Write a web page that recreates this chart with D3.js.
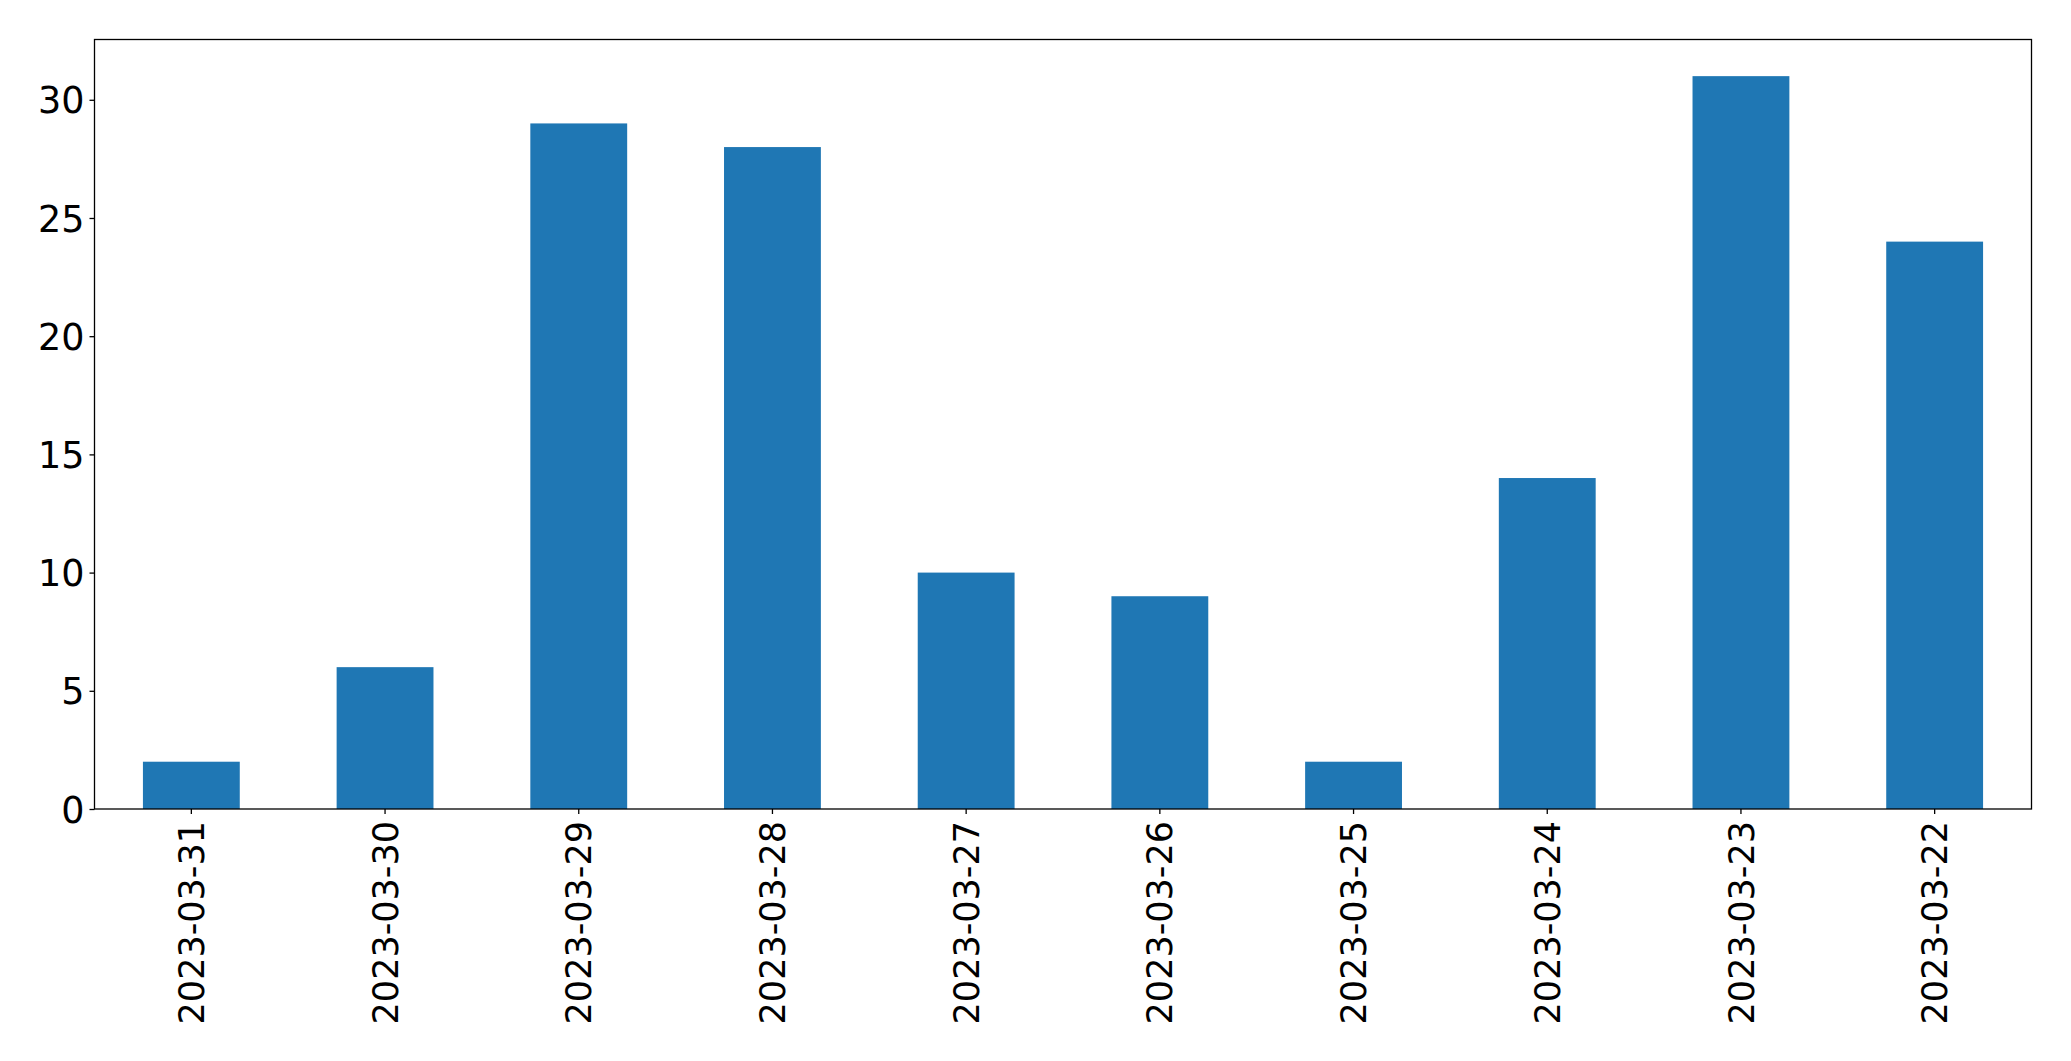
<!DOCTYPE html>
<html>
<head>
<meta charset="utf-8">
<script src="https://cdn.jsdelivr.net/npm/d3@7"></script>
<style>
  html, body { margin: 0; padding: 0; background: #fff; overflow: hidden; }
  svg { display: block; }
  svg text { font-family: "DejaVu Sans", sans-serif; fill: #000; }
</style>
</head>
<body>
<div id="chart"></div>
<script>
const dates = ["2023-03-31", "2023-03-30", "2023-03-29", "2023-03-28", "2023-03-27",
               "2023-03-26", "2023-03-25", "2023-03-24", "2023-03-23", "2023-03-22"];
const counts = [2, 6, 29, 28, 10, 9, 2, 14, 31, 24];
const yTicks = [0, 5, 10, 15, 20, 25, 30];

const width = 2071, height = 1061;
const margin = { top: 39.5, right: 39.5, bottom: 252, left: 94.5 };
const innerWidth = width - margin.left - margin.right;
const innerHeight = height - margin.top - margin.bottom;

const svg = d3.select("#chart").append("svg").attr("width", width).attr("height", height);
const chart = svg.append("g").attr("transform", `translate(${margin.left},${margin.top})`);

const x = d3.scaleBand().domain(dates).range([0, innerWidth]).paddingInner(0.5).paddingOuter(0.25);
const y = d3.scaleLinear().domain([0, d3.max(counts) * 1.05]).range([innerHeight, 0]);

chart.selectAll(".bar").data(dates).enter().append("rect")
    .attr("x", d => x(d)).attr("width", x.bandwidth())
    .attr("y", (d, i) => y(counts[i])).attr("height", (d, i) => innerHeight - y(counts[i]))
    .attr("fill", "#1f77b4");

const yAxis = chart.append("g")
    .call(d3.axisLeft(y).tickValues(yTicks).tickSize(5).tickPadding(5).tickFormat(d3.format("d")));
yAxis.selectAll("text").style("font-size", "36.5px").attr("dy", "0.36em");

const xAxis = chart.append("g").attr("transform", `translate(0,${innerHeight})`)
    .call(d3.axisBottom(x).tickSize(5).tickSizeOuter(0));
xAxis.selectAll("text")
    .style("font-size", "35px")
    .attr("text-anchor", "end")
    .attr("transform", "rotate(-90)")
    .attr("x", -12).attr("y", 0).attr("dy", "0.36em");

svg.selectAll(".tick line").attr("stroke", "#000").attr("stroke-width", 1.3);
xAxis.select(".domain").remove();
yAxis.select(".domain").remove();

chart.append("rect").attr("width", innerWidth).attr("height", innerHeight)
    .attr("fill", "none").attr("stroke", "#000").attr("stroke-width", 1.3);
</script>
</body>
</html>
